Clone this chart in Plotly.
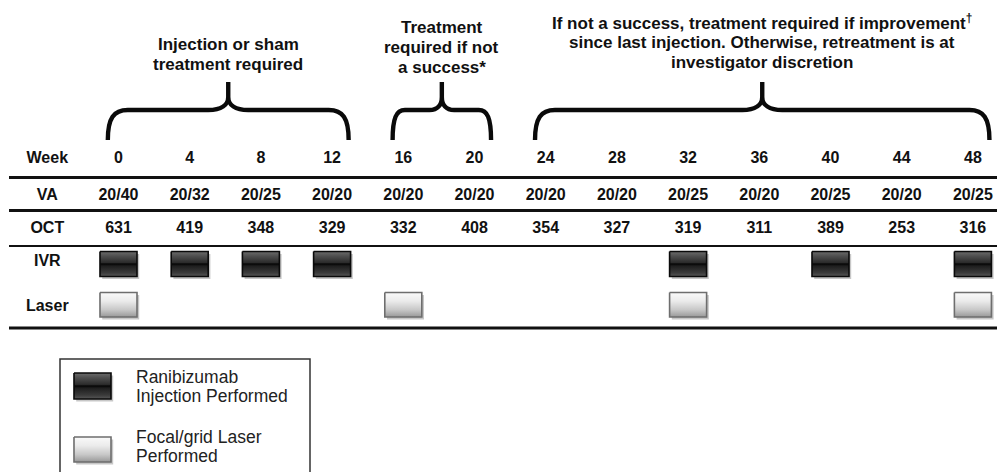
import plotly.graph_objects as go

# ---------------- data ----------------
weeks = [0, 4, 8, 12, 16, 20, 24, 28, 32, 36, 40, 44, 48]
va = ["20/40", "20/32", "20/25", "20/20", "20/20", "20/20", "20/20",
      "20/20", "20/25", "20/20", "20/25", "20/20", "20/25"]
oct_vals = [631, 419, 348, 329, 332, 408, 354, 327, 319, 311, 389, 253, 316]
ivr_weeks = [0, 4, 8, 12, 32, 40, 48]
laser_weeks = [0, 16, 32, 48]
row_labels = ["Week", "VA", "OCT", "IVR", "Laser"]
phase_start = [0, 16, 24]
phase_end = [12, 20, 48]
phase_text = [
    ["Injection or sham", "treatment required"],
    ["Treatment", "required if not", "a success*"],
    ["If not a success, treatment required if improvement<sup>†</sup>",
     "since last injection. Otherwise, retreatment is at",
     "investigator discretion"],
]
legend_labels = [["Ranibizumab", "Injection Performed"],
                 ["Focal/grid Laser", "Performed"]]

# ---------------- layout constants ----------------
# the page body has an 8px margin, so the figure starts 8px in from the window edge
VW, VH = 1005, 472
OFF = 8
W, H = VW - OFF, VH - OFF
PX_PER_WEEK = 17.8
X0_PX = 118.5                      # window x of week 0
XMIN = (OFF - X0_PX) / PX_PER_WEEK
XMAX = (VW - X0_PX) / PX_PER_WEEK
HW = 1.04                          # half width of a box in weeks
row_y = {"Week": 159, "VA": 196, "OCT": 229, "IVR": 262, "Laser": 307}
label_x = -4.0
FONT = "Liberation Sans, Arial, sans-serif"


def px(xw):
    """window x pixel -> paper fraction"""
    return (xw - OFF) / W


dark_cs = [[0, "#6c6c6c"], [0.2, "#4c4c4c"], [0.44, "#2c2c2c"], [0.5, "#050505"],
           [0.58, "#1e1e1e"], [0.85, "#3a3a3a"], [1, "#585858"]]
light_cs = [[0, "#fafafa"], [0.35, "#ebebeb"], [0.7, "#c8c8c8"], [1, "#989898"]]

fig = go.Figure()


def boxes(centers, top, bottom, cs, border):
    xs, ys, sx, sy = [], [], [], []
    off = 2.2 / PX_PER_WEEK
    for c in centers:
        xs += [c - HW, c + HW, c + HW, c - HW, c - HW, None]
        ys += [top, top, bottom, bottom, top, None]
        sx += [c - HW + off, c + HW + off, c + HW + off, c - HW + off, c - HW + off, None]
        sy += [top + 2.5, top + 2.5, bottom + 2.5, bottom + 2.5, top + 2.5, None]
    fig.add_trace(go.Scatter(x=sx, y=sy, mode="lines", fill="toself",
                             fillcolor="rgba(0,0,0,0.22)", line=dict(width=0),
                             hoverinfo="skip", showlegend=False))
    fig.add_trace(go.Scatter(x=xs, y=ys, mode="lines", fill="toself",
                             line=dict(color=border, width=1.6),
                             fillgradient=dict(type="vertical", colorscale=cs,
                                               start=top, stop=bottom),
                             hoverinfo="skip", showlegend=False))


# table boxes
boxes(ivr_weeks, 251.5, 276.5, dark_cs, "#0a0a0a")
boxes(laser_weeks, 292.5, 317, light_cs, "#6e6e6e")

# legend swatches
leg_c = (92.5 - X0_PX) / PX_PER_WEEK
boxes([leg_c], 373, 399, dark_cs, "#0a0a0a")
boxes([leg_c], 437, 462, light_cs, "#6e6e6e")

# table text
tf = dict(family=FONT, size=16, color="#111111", weight="bold")
fig.add_trace(go.Scatter(x=weeks, y=[row_y["Week"]] * len(weeks), mode="text",
                         text=[str(w) for w in weeks], textfont=tf,
                         hoverinfo="skip", showlegend=False))
fig.add_trace(go.Scatter(x=weeks, y=[row_y["VA"]] * len(weeks), mode="text",
                         text=va, textfont=tf, hoverinfo="skip", showlegend=False))
fig.add_trace(go.Scatter(x=weeks, y=[row_y["OCT"]] * len(weeks), mode="text",
                         text=[str(v) for v in oct_vals], textfont=tf,
                         hoverinfo="skip", showlegend=False))
fig.add_trace(go.Scatter(x=[label_x] * len(row_labels),
                         y=[row_y[r] for r in row_labels], mode="text",
                         text=row_labels, textfont=tf,
                         hoverinfo="skip", showlegend=False))

shapes = []
# separator lines
for yy, lw in [(177.5, 3), (210.5, 3), (246, 2), (328, 3)]:
    shapes.append(dict(type="line", xref="paper", yref="y", x0=px(9), x1=1,
                       y0=yy, y1=yy, line=dict(color="#111111", width=lw)))

# braces + headings
annotations = []
first_base = [50, 33, 28]
for s, e, lines, b0 in zip(phase_start, phase_end, phase_text, first_base):
    x0 = s - 0.6
    x1 = e + 0.93
    xm = (x0 + x1) / 2
    r = min(1.12, (x1 - x0) / 8)
    yb, yh, yc, yp = 140, 110, 97, 82
    path = (f"M {x0},{yb} C {x0},{yh+8} {x0+0.3*r},{yh} {x0+r},{yh} "
            f"L {xm-r},{yh} C {xm-0.35*r},{yh} {xm},{yh-5} {xm},{yc} L {xm},{yp} "
            f"M {xm},{yc} C {xm},{yh-5} {xm+0.35*r},{yh} {xm+r},{yh} "
            f"L {x1-r},{yh} C {x1-0.3*r},{yh} {x1},{yh+8} {x1},{yb}")
    shapes.append(dict(type="path", xref="x", yref="y", path=path,
                       line=dict(color="#0a0a0a", width=4.4)))
    for i, t in enumerate(lines):
        annotations.append(dict(x=xm, y=b0 + 20 * i - 6, xref="x", yref="y",
                                text=t, showarrow=False, xanchor="center",
                                yanchor="middle",
                                font=dict(family=FONT, size=17, color="#111111",
                                          weight="bold")))

# legend frame
shapes.append(dict(type="rect", xref="paper", yref="y", x0=px(60), x1=px(310),
                   y0=359, y1=500, line=dict(color="#333333", width=1.5)))
leg_base = [[383, 402], [443, 462]]
for lines, bases in zip(legend_labels, leg_base):
    for t, b in zip(lines, bases):
        annotations.append(dict(x=px(134), y=b - 6, xref="paper", yref="y",
                                text=t, showarrow=False, xanchor="left",
                                yanchor="middle",
                                font=dict(family=FONT, size=17.5, color="#222222")))

fig.update_layout(
    width=W, height=H, margin=dict(l=0, r=0, t=0, b=0),
    paper_bgcolor="white", plot_bgcolor="white",
    xaxis=dict(range=[XMIN, XMAX], visible=False, fixedrange=True),
    yaxis=dict(range=[VH, OFF], visible=False, fixedrange=True),
    shapes=shapes, annotations=annotations, showlegend=False,
)
fig.write_html("out.html")
